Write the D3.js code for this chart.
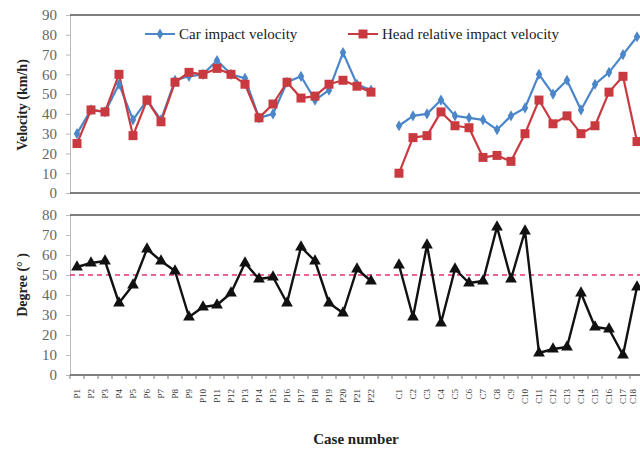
<!DOCTYPE html>
<html><head><meta charset="utf-8">
<script src="https://cdn.jsdelivr.net/npm/d3@7"></script>
<style>body{margin:0;background:#fff}svg{display:block}</style>
</head><body>
<svg id="c" width="640" height="449"></svg>
<script>
const categories = ["P1","P2","P3","P4","P5","P6","P7","P8","P9","P10","P11","P12","P13","P14","P15","P16","P17","P18","P19","P20","P21","P22","",
  "C1","C2","C3","C4","C5","C6","C7","C8","C9","C10","C11","C12","C13","C14","C15","C16","C17","C18"];
const carVelocity = [30,42,41,55,37,47,37,57,59,60,67,60,58,38,40,56,59,47,52,71,55,52,null,
  34,39,40,47,39,38,37,32,39,43,60,50,57,42,55,61,70,79];
const headVelocity = [25,42,41,60,29,47,36,56,61,60,63,60,55,38,45,56,48,49,55,57,54,51,null,
  10,28,29,41,34,33,18,19,16,30,47,35,39,30,34,51,59,26];
const degree = [54,56,57,36,45,63,57,52,29,34,35,41,56,48,49,36,64,57,36,31,53,47,null,
  55,29,65,26,53,46,47,74,48,72,11,13,14,41,24,23,10,44];
const velTicks = [0,10,20,30,40,50,60,70,80,90];
const degTicks = [0,10,20,30,40,50,60,70,80];
const degRef = 50;

const svg = d3.select("#c");
const keys = categories.map((c,i)=> c === "" ? "gap"+i : c);
const x = d3.scaleBand().domain(keys).range([70,644]).padding(0);
const cx = i => x(keys[i]) + x.bandwidth()/2;
const yV = d3.scaleLinear().domain([0,90]).range([193,15]);
const yD = d3.scaleLinear().domain([0,80]).range([375,215]);
const serif = "'Liberation Serif','Times New Roman',serif";

function frame(y, ticks, title, titleY){
  const ax = svg.append("g").attr("transform","translate(70,0)")
    .call(d3.axisLeft(y).tickValues(ticks).tickSize(4).tickPadding(9).tickFormat(d3.format("d")));
  ax.select(".domain").attr("stroke","#bbb");
  ax.selectAll(".tick line").attr("stroke","#bbb");
  ax.selectAll(".tick text").attr("font-family",serif).attr("font-size",15).attr("fill","#666");
  svg.append("line").attr("x1",70).attr("x2",640).attr("y1",y.range()[1]).attr("y2",y.range()[1])
    .attr("stroke","#555").attr("stroke-width",1.5);
  svg.append("line").attr("x1",70).attr("x2",640).attr("y1",y.range()[0]).attr("y2",y.range()[0])
    .attr("stroke","#555").attr("stroke-width",1.5);
  svg.append("text").attr("transform",`translate(27,${titleY}) rotate(-90)`)
    .attr("text-anchor","middle").attr("font-family",serif).attr("font-weight","bold")
    .attr("font-size",14).attr("fill","#222").text(title);
}
frame(yV, velTicks, "Velocity (km/h)", 105);
frame(yD, degTicks, "Degree (° )", 285);

// bottom x axis ticks between categories
svg.append("g").selectAll("line").data(keys.concat(["end"])).join("line")
  .attr("x1",(d,i)=> i < keys.length ? x(d) : x(keys[keys.length-1]) + x.bandwidth())
  .attr("x2",(d,i)=> i < keys.length ? x(d) : x(keys[keys.length-1]) + x.bandwidth())
  .attr("y1",375).attr("y2",379).attr("stroke","#777");
svg.append("g").selectAll("text").data(categories).join("text")
  .attr("transform",(d,i)=>`translate(${Math.min(cx(i)+0.5,634)},389) rotate(-90)`)
  .attr("text-anchor","end").attr("dominant-baseline","middle")
  .attr("font-family",serif).attr("font-size",9).attr("fill","#333").text(d=>d);
svg.append("text").attr("x",356).attr("y",444).attr("text-anchor","middle")
  .attr("font-family",serif).attr("font-weight","bold").attr("font-size",15).attr("fill","#222").text("Case number");

// reference line
svg.append("line").attr("x1",70).attr("x2",640).attr("y1",yD(degRef)).attr("y2",yD(degRef))
  .attr("stroke","#e8336b").attr("stroke-width",1.3).attr("stroke-dasharray","5,4");

const blue = "#4a86c8", red = "#c83a40";
function series(vals, y, color, width){
  const line = d3.line().defined(d=>d!=null).x((d,i)=>cx(i)).y(d=>y(d));
  svg.append("path").datum(vals).attr("d",line).attr("fill","none")
    .attr("stroke",color).attr("stroke-width",width).attr("stroke-linejoin","round");
}
series(carVelocity, yV, blue, 2.2);
series(headVelocity, yV, red, 2.2);
series(degree, yD, "#111", 2.4);

const sym = (type,size)=> d3.symbol().type(type).size(size)();
svg.append("g").selectAll("path").data(carVelocity.map((v,i)=>({v,i})).filter(d=>d.v!=null)).join("path")
  .attr("transform",d=>`translate(${cx(d.i)},${yV(d.v)})`).attr("d",sym(d3.symbolDiamond,36)).attr("fill",blue);
svg.append("g").selectAll("path").data(headVelocity.map((v,i)=>({v,i})).filter(d=>d.v!=null)).join("path")
  .attr("transform",d=>`translate(${cx(d.i)},${yV(d.v)})`).attr("d",sym(d3.symbolSquare,81)).attr("fill",red);
svg.append("g").selectAll("path").data(degree.map((v,i)=>({v,i})).filter(d=>d.v!=null)).join("path")
  .attr("transform",d=>`translate(${cx(d.i)},${yD(d.v)})`).attr("d",sym(d3.symbolTriangle,60)).attr("fill","#111");

// legend
const lg = [{name:"Car impact velocity", color:blue, shape:d3.symbolDiamond, size:36, x:145},
            {name:"Head relative impact velocity", color:red, shape:d3.symbolSquare, size:81, x:348}];
lg.forEach(l=>{
  svg.append("line").attr("x1",l.x).attr("x2",l.x+30).attr("y1",34).attr("y2",34).attr("stroke",l.color).attr("stroke-width",2);
  svg.append("path").attr("transform",`translate(${l.x+15},34)`).attr("d",sym(l.shape,l.size)).attr("fill",l.color);
  svg.append("text").attr("x",l.x+34).attr("y",39).attr("font-family",serif).attr("font-size",15)
    .attr("fill","#222").text(l.name);
});
</script>
</body></html>
